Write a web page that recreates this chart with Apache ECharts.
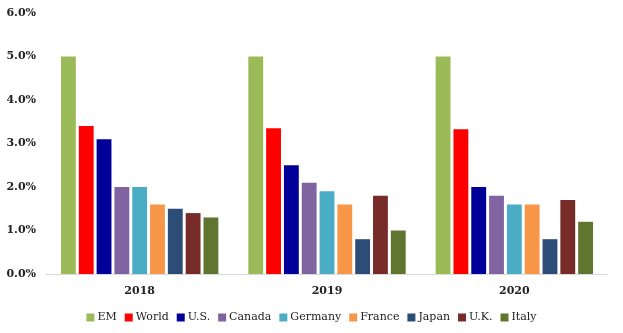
<!DOCTYPE html>
<html>
<head>
<meta charset="utf-8">
<script src="https://cdn.jsdelivr.net/npm/echarts@6/dist/echarts.min.js"></script>
<style>
  html, body { margin: 0; padding: 0; background: #fff; }
  #chart { width: 623px; height: 333px; }
</style>
</head>
<body>
<div id="chart"></div>
<script>
// Growth rates by region and year (percent)
const years = ['2018', '2019', '2020'];
const seriesNames = ['EM', 'World', 'U.S.', 'Canada', 'Germany', 'France', 'Japan', 'U.K.', 'Italy'];
const seriesColors = ['#9BBB59', '#FF0000', '#000099', '#8064A2', '#4BACC6', '#F79646', '#2C4D75', '#772C2A', '#5F7530'];
const em      = [5.0, 5.0, 5.0];
const world   = [3.4, 3.35, 3.33];
const us      = [3.1, 2.5, 2.0];
const canada  = [2.0, 2.1, 1.8];
const germany = [2.0, 1.9, 1.6];
const france  = [1.6, 1.6, 1.6];
const japan   = [1.5, 0.8, 0.8];
const uk      = [1.4, 1.8, 1.7];
const italy   = [1.3, 1.0, 1.2];
const yTicks  = { min: 0, max: 6, interval: 1 };

const values = [em, world, us, canada, germany, france, japan, uk, italy];
const font = '"DejaVu Serif", Georgia, serif';

const chart = echarts.init(document.getElementById('chart'), null, { renderer: 'canvas' });
chart.setOption({
  animation: false,
  grid: { left: 46, right: 15, top: 13, bottom: 59 },
  legend: {
    data: seriesNames,
    bottom: 5,
    left: 'center',
    itemWidth: 8,
    itemHeight: 8,
    itemGap: 8,
    icon: 'rect',
    textStyle: { fontFamily: font, fontSize: 11, color: '#222', padding: [0, 0, 0, -2] }
  },
  xAxis: {
    type: 'category',
    data: years,
    axisLine: { lineStyle: { color: '#d9d9d9', width: 1 } },
    axisTick: { show: false },
    axisLabel: { fontFamily: font, fontSize: 11, fontWeight: 'bold', color: '#222', margin: 12 }
  },
  yAxis: {
    type: 'value',
    min: yTicks.min,
    max: yTicks.max,
    interval: yTicks.interval,
    splitLine: { show: false },
    axisLine: { show: false },
    axisTick: { show: false },
    axisLabel: {
      fontFamily: font, fontSize: 11, fontWeight: 'bold', color: '#222', margin: 10,
      formatter: v => v.toFixed(1) + '%'
    }
  },
  series: seriesNames.map((name, i) => ({
    name: name,
    type: 'bar',
    data: values[i],
    barGap: '20%',
    barCategoryGap: '16%',
    itemStyle: { color: seriesColors[i] }
  }))
});
</script>
</body>
</html>
